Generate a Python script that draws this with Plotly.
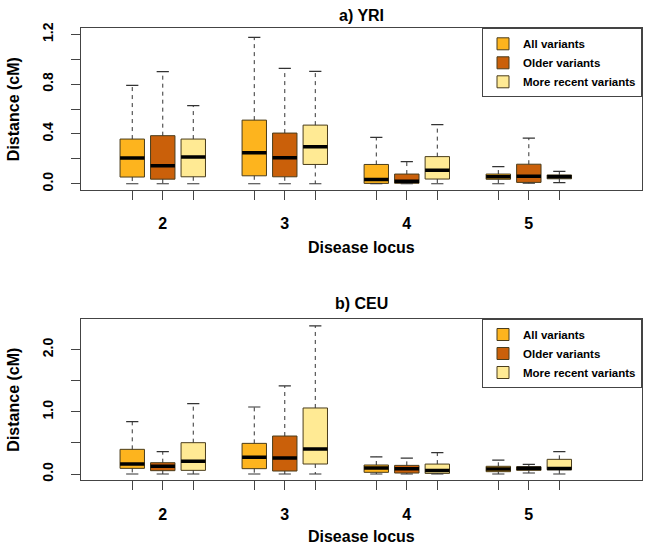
import plotly.graph_objects as go

# ---------------- data ----------------
loci = ["2", "3", "4", "5"]
series = ["All variants", "Older variants", "More recent variants"]
colors = ["#FDB41E", "#CA600A", "#FFEA94"]

# YRI panel: five-number summaries per series, over loci 2..5
yri_lower = [[0, 0, 0, 0], [0, 0, 0, 0.004], [0, 0, 0, 0.010]]
yri_q1 = [[0.054, 0.064, 0.003, 0.036], [0.037, 0.056, 0.004, 0.011], [0.056, 0.155, 0.038, 0.040]]
yri_med = [[0.206, 0.249, 0.035, 0.056], [0.145, 0.209, 0.020, 0.060], [0.214, 0.297, 0.109, 0.056]]
yri_q3 = [[0.359, 0.511, 0.155, 0.078], [0.386, 0.407, 0.078, 0.157], [0.359, 0.471, 0.218, 0.071]]
yri_upper = [[0.790, 1.175, 0.372, 0.137], [0.900, 0.926, 0.177, 0.367], [0.627, 0.902, 0.474, 0.099]]

# CEU panel
ceu_lower = [[0, 0, 0, 0], [0, 0, 0, 0.016], [0, 0, 0, 0]]
ceu_q1 = [[0.091, 0.086, 0.027, 0.038], [0.054, 0.048, 0.016, 0.059], [0.059, 0.161, 0.010, 0.068]]
ceu_med = [[0.161, 0.268, 0.098, 0.080], [0.123, 0.257, 0.086, 0.091], [0.204, 0.402, 0.056, 0.090]]
ceu_q3 = [[0.397, 0.493, 0.145, 0.124], [0.182, 0.611, 0.139, 0.117], [0.504, 1.062, 0.160, 0.236]]
ceu_upper = [[0.842, 1.078, 0.277, 0.223], [0.359, 1.416, 0.257, 0.155], [1.131, 2.381, 0.343, 0.359]]

yri_ticks = [0, 0.2, 0.4, 0.6, 0.8, 1.0, 1.2]
yri_ticktext = ["0.0", "", "0.4", "", "0.8", "", "1.2"]
ceu_ticks = [0, 0.5, 1.0, 1.5, 2.0]
ceu_ticktext = ["0.0", "", "1.0", "", "2.0"]

# ---------------- styling ----------------
FONT = "Liberation Sans, Arial, sans-serif"
OUTLINE = "#4a3d1c"
AXC = "#444444"
BOXW = 0.8
CAPW = 0.4

def positions(s):
    return [4 * g + s + 1 for g in range(len(loci))]

all_pos = sorted(p for s in range(3) for p in positions(s))
xtext = []
for p in all_pos:
    g, s = divmod(p - 1, 4)
    xtext.append(loci[g] if s == 1 else "")

fig = go.Figure()

def add_panel(lower, q1, med, q3, upper, xa, ya, legend):
    for s, name in enumerate(series):
        pos = positions(s)
        # whiskers (dashed)
        wx, wy = [], []
        for p, a, b, c, d in zip(pos, lower[s], q1[s], q3[s], upper[s]):
            wx += [p, p, None, p, p, None]
            wy += [c, d, None, b, a, None]
        fig.add_trace(go.Scatter(x=wx, y=wy, mode="lines", xaxis=xa, yaxis=ya,
                                 line=dict(color="#333333", width=1, dash="4px,4px"),
                                 showlegend=False, hoverinfo="skip"))
        # caps
        cx, cy = [], []
        for p, a, d in zip(pos, lower[s], upper[s]):
            cx += [p - CAPW / 2, p + CAPW / 2, None, p - CAPW / 2, p + CAPW / 2, None]
            cy += [d, d, None, a, a, None]
        fig.add_trace(go.Scatter(x=cx, y=cy, mode="lines", xaxis=xa, yaxis=ya,
                                 line=dict(color="#333333", width=1.2),
                                 showlegend=False, hoverinfo="skip"))
        # boxes
        fig.add_trace(go.Bar(x=pos, y=[c - b for b, c in zip(q1[s], q3[s])], base=q1[s],
                             width=BOXW, xaxis=xa, yaxis=ya, name=name, legend=legend,
                             marker=dict(color=colors[s], line=dict(color=OUTLINE, width=1))))
        # medians
        mx, my = [], []
        for p, m in zip(pos, med[s]):
            mx += [p - BOXW / 2, p + BOXW / 2, None]
            my += [m, m, None]
        fig.add_trace(go.Scatter(x=mx, y=my, mode="lines", xaxis=xa, yaxis=ya,
                                 line=dict(color="black", width=3.5),
                                 showlegend=False, hoverinfo="skip"))

add_panel(yri_lower, yri_q1, yri_med, yri_q3, yri_upper, "x", "y", "legend")
add_panel(ceu_lower, ceu_q1, ceu_med, ceu_q3, ceu_upper, "x2", "y2", "legend2")

W, H = 649, 545
xdom = [80.7 / W, 642 / W]
top_dom = [1 - 190 / H, 1 - 28.3 / H]
bot_dom = [1 - 480.3 / H, 1 - 319 / H]

def xaxis(dom_anchor):
    return dict(domain=xdom, anchor=dom_anchor, range=[-0.69, 17.71],
                tickvals=all_pos, ticktext=xtext, ticks="outside", ticklen=9,
                tickcolor=AXC, tickwidth=1, showline=True, linecolor=AXC, linewidth=1,
                mirror=True, showgrid=False, zeroline=False,
                tickfont=dict(family=FONT, size=16, color="black", weight="bold"),
                ticklabelstandoff=10,
                title=dict(text="Disease locus", standoff=10,
                           font=dict(family=FONT, size=16, color="black", weight="bold")),
                automargin=False)

def yaxis(dom, anchor, rng, tv, tt):
    return dict(domain=dom, anchor=anchor, range=rng, tickvals=tv, ticktext=tt,
                ticks="outside", ticklen=9, tickcolor=AXC, tickwidth=1,
                showline=True, linecolor=AXC, linewidth=1, mirror=True,
                showgrid=False, zeroline=False, tickangle=-90,
                tickfont=dict(family=FONT, size=14, color="black", weight="bold"),
                ticklabelstandoff=12,
                title=dict(text="Distance (cM)", standoff=16,
                           font=dict(family=FONT, size=16, color="black", weight="bold")),
                automargin=False)

legend_common = dict(xanchor="right", yanchor="top", bgcolor="white",
                     bordercolor=AXC, borderwidth=1, traceorder="normal",
                     font=dict(family=FONT, size=11.5, color="black", weight="bold"),
                     itemclick=False, itemdoubleclick=False)

fig.update_layout(
    width=W, height=H,
    margin=dict(l=0, r=0, t=0, b=0),
    paper_bgcolor="white", plot_bgcolor="white",
    barmode="overlay",
    xaxis=xaxis("y"),
    yaxis=yaxis(top_dom, "x", [-0.05, 1.248], yri_ticks, yri_ticktext),
    xaxis2=xaxis("y2"),
    yaxis2=yaxis(bot_dom, "x2", [-0.101, 2.493], ceu_ticks, ceu_ticktext),
    legend=dict(x=xdom[1], y=top_dom[1], **legend_common),
    legend2=dict(x=xdom[1], y=bot_dom[1], **legend_common),
    annotations=[
        dict(text="a) YRI", x=(xdom[0] + xdom[1]) / 2, y=1 - 15 / H, xref="paper", yref="paper",
             showarrow=False, xanchor="center", yanchor="middle",
             font=dict(family=FONT, size=16, color="black", weight="bold")),
        dict(text="b) CEU", x=(xdom[0] + xdom[1]) / 2, y=1 - 303 / H, xref="paper", yref="paper",
             showarrow=False, xanchor="center", yanchor="middle",
             font=dict(family=FONT, size=16, color="black", weight="bold")),
    ],
    showlegend=True,
)

fig.write_html("out.html", config={"displayModeBar": False},
               post_script="document.body.style.margin='0';document.body.style.overflow='hidden';")
